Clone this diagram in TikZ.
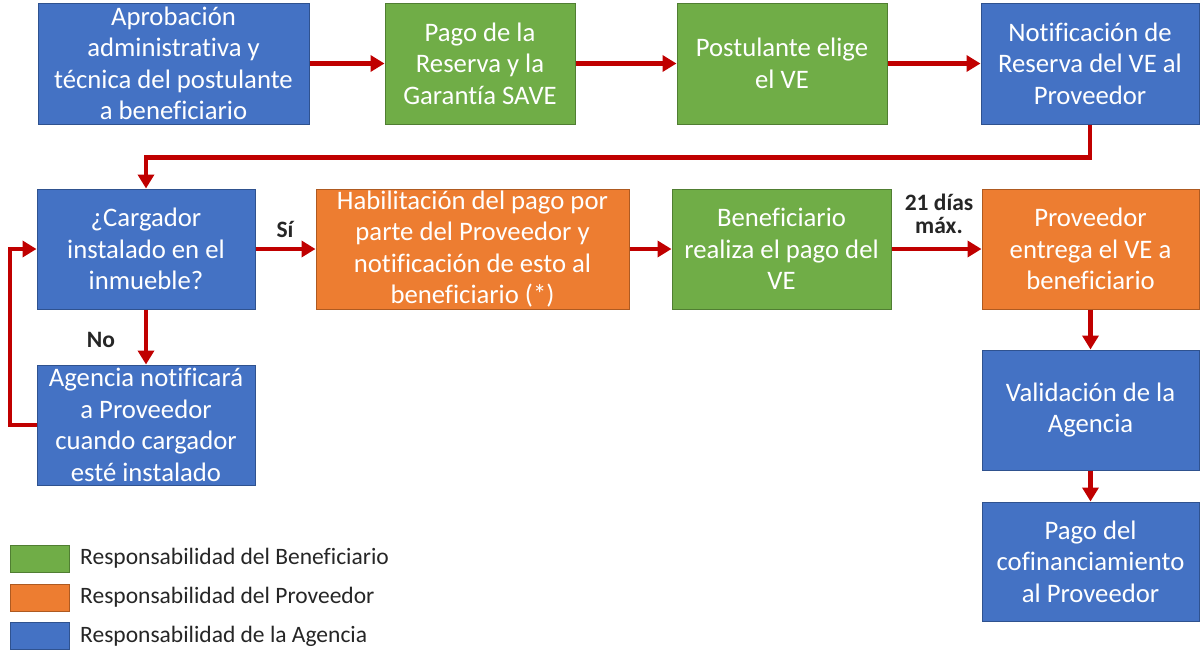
\documentclass[tikz,border=0pt]{standalone}
\usepackage{fontspec}
\setmainfont[Ligatures=NoCommon]{Carlito}
\usetikzlibrary{arrows.meta}
\definecolor{ablue}{HTML}{4472C4}
\definecolor{abluebd}{HTML}{2F528F}
\definecolor{agreen}{HTML}{70AD47}
\definecolor{agreenbd}{HTML}{507E32}
\definecolor{aorange}{HTML}{ED7D31}
\definecolor{aorangebd}{HTML}{AE5A21}
\definecolor{ared}{HTML}{C00000}
\definecolor{atext}{HTML}{262626}
\begin{document}
\begin{tikzpicture}[x=1pt,y=-1pt,
  box/.style={draw, line width=1pt, text=white, align=center, inner sep=0pt,
    font=\fontsize{26.7}{31.5}\selectfont},
  bluebox/.style={box, fill=ablue, draw=abluebd},
  greenbox/.style={box, fill=agreen, draw=agreenbd},
  orangebox/.style={box, fill=aorange, draw=aorangebd},
  arr/.style={draw=ared, line width=4.2pt, -{Triangle[length=14pt,width=16pt]}},
  lab/.style={font=\bfseries\fontsize{23.5}{23}\selectfont, text=atext, align=center, inner sep=0pt},
  legsq/.style={draw, line width=1pt, minimum width=59pt, minimum height=27pt, inner sep=0pt},
  legtext/.style={anchor=west, inner sep=0pt, text=atext, font=\fontsize{23.5}{27}\selectfont}]
\useasboundingbox (0,0) rectangle (1200,649);
\fill[white] (0,0) rectangle (1200,649);
% row 1
\node[bluebox, minimum width=271pt, minimum height=121pt] (b1) at (173.5,63.5)
  {Aprobación\\administrativa y\\técnica del postulante\\a beneficiario};
\node[greenbox, minimum width=190pt, minimum height=121pt] (b2) at (480,63.5)
  {Pago de la\\Reserva y la\\Garantía SAVE};
\node[greenbox, minimum width=210pt, minimum height=121pt] (b3) at (782,63.5)
  {Postulante elige\\el VE};
\node[bluebox, minimum width=218pt, minimum height=121pt] (b4) at (1090,63.5)
  {Notificación de\\Reserva del VE al\\Proveedor};
% row 2
\node[bluebox, minimum width=218pt, minimum height=120pt] (b5) at (146,249)
  {¿Cargador\\instalado en el\\inmueble?};
\node[orangebox, minimum width=313pt, minimum height=120pt] (b6) at (472.5,249)
  {Habilitación del pago por\\parte del Proveedor y\\notificación de esto al\\beneficiario (*)};
\node[greenbox, minimum width=219pt, minimum height=120pt] (b7) at (781.5,249)
  {Beneficiario\\realiza el pago del\\VE};
\node[orangebox, minimum width=217pt, minimum height=120pt] (b8) at (1090.5,249)
  {Proveedor\\entrega el VE a\\beneficiario};
% column right
\node[bluebox, minimum width=217pt, minimum height=120pt] (b9) at (1090.5,410)
  {Validación de la\\Agencia};
\node[bluebox, minimum width=217pt, minimum height=119pt] (b10) at (1090.5,561.5)
  {Pago del\\cofinanciamiento\\al Proveedor};
% left lower
\node[bluebox, minimum width=218pt, minimum height=120pt] (b11) at (146,425)
  {Agencia notificará\\a Proveedor\\cuando cargador\\esté instalado};
% connectors
\draw[arr] (b1) -- (b2);
\draw[arr] (b2) -- (b3);
\draw[arr] (b3) -- (b4);
\draw[arr] (b4.south) -- ++(0,33) -| (b5.north);
\draw[arr] (b5) -- (b6);
\draw[arr] (b6) -- (b7);
\draw[arr] (b7) -- (b8);
\draw[arr] (b8) -- (b9);
\draw[arr] (b9) -- (b10);
\draw[arr] (b5) -- (b11);
\coordinate (loopx) at (10,0);
\draw[arr] (b11.west) -- (b11.west -| loopx) |- (b5.west);
% labels
\node[lab] (lsi) at (285,229) {Sí};
\node[lab] (lno) at (101,340) {No};
\node[lab] (l21) at (939,214) {21 días\\máx.};
% legend
\node[legsq, fill=agreen, draw=agreenbd] (lg1) at (39.5,558.5) {};
\node[legsq, fill=aorange, draw=aorangebd] (lg2) at (39.5,597.5) {};
\node[legsq, fill=ablue, draw=abluebd] (lg3) at (39.5,635.5) {};
\node[legtext] (lt1) at (80,558) {Responsabilidad del Beneficiario};
\node[legtext] (lt2) at (80,597) {Responsabilidad del Proveedor};
\node[legtext] (lt3) at (80,636) {Responsabilidad de la Agencia};
\end{tikzpicture}
\end{document}
